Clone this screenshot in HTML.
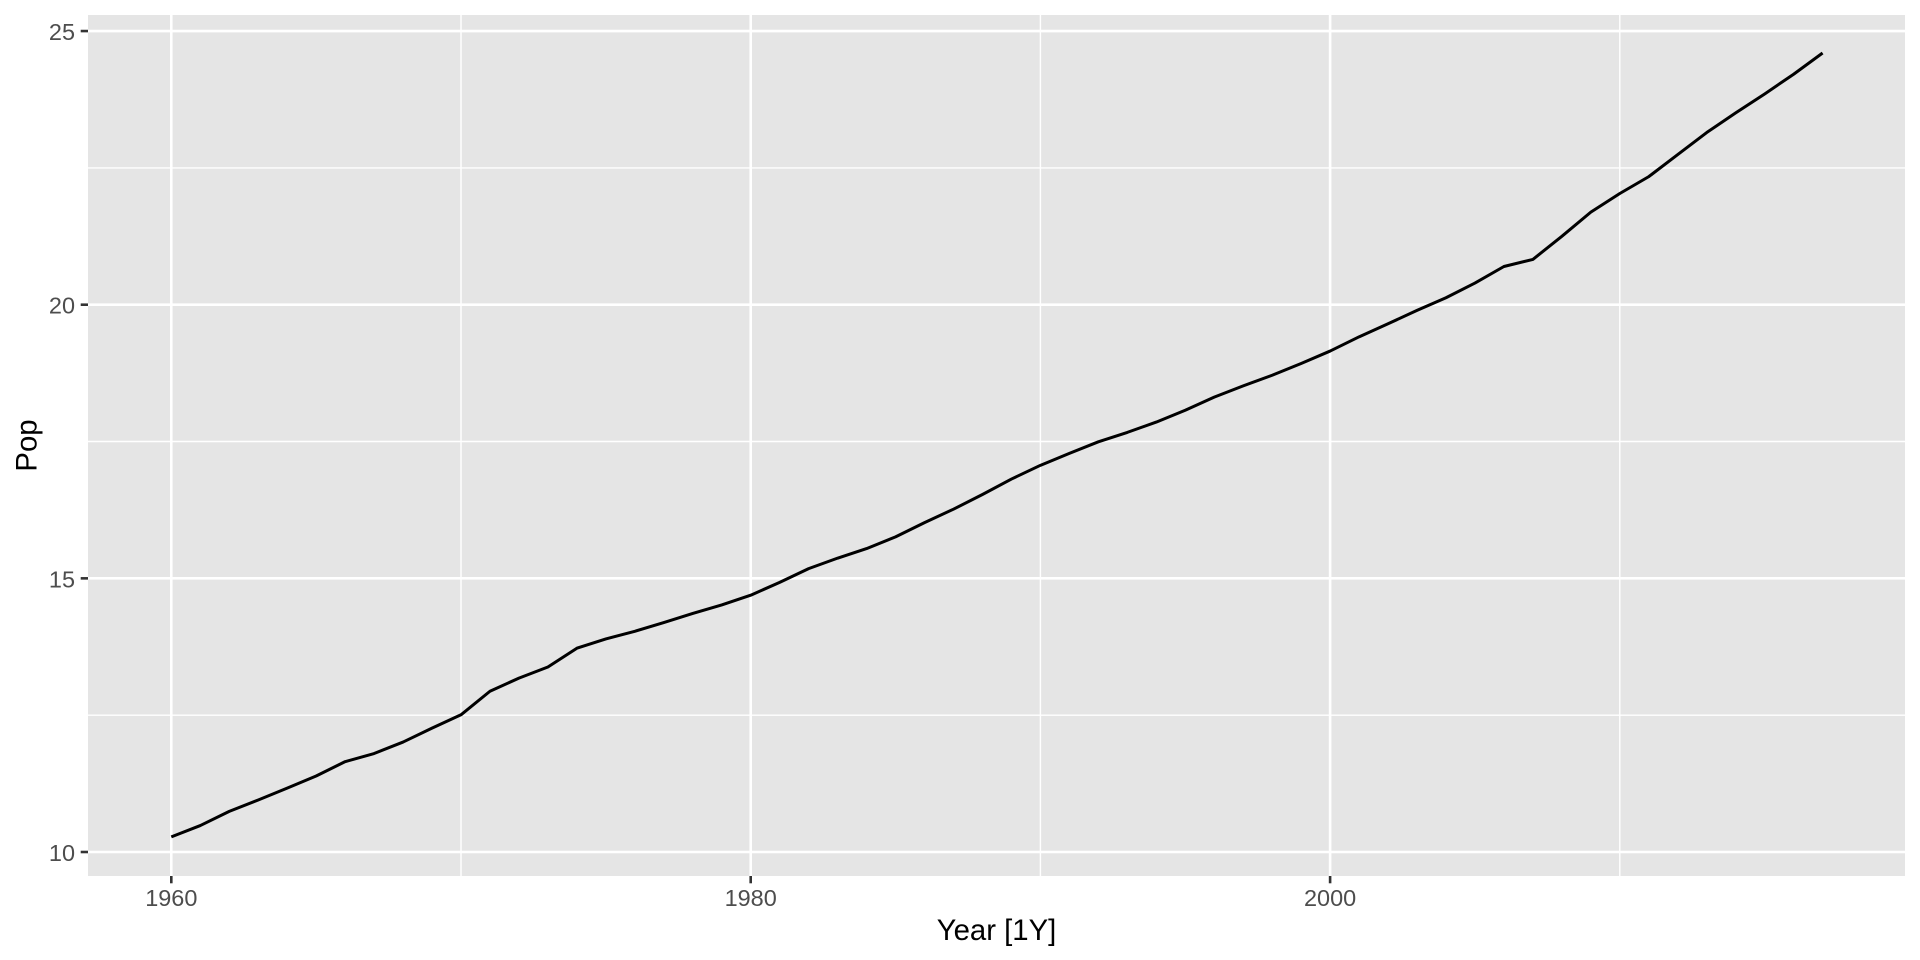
<!DOCTYPE html>
<html>
<head>
<meta charset="utf-8">
<style>
html,body{margin:0;padding:0;background:#fff;}
svg{display:block;}
text{font-family:"Liberation Sans",Arial,sans-serif;}
</style>
</head>
<body>
<svg width="1920" height="960" viewBox="0 0 1920 960" xmlns="http://www.w3.org/2000/svg">
<rect x="0" y="0" width="1920" height="960" fill="#fff"/>
<!-- panel -->
<rect x="88" y="15" width="1817" height="861" fill="#E5E5E5"/>
<!-- minor gridlines -->
<g stroke="#fff" stroke-width="1.42" fill="none">
<line x1="88" x2="1905" y1="715.2" y2="715.2"/>
<line x1="88" x2="1905" y1="441.5" y2="441.5"/>
<line x1="88" x2="1905" y1="167.9" y2="167.9"/>
<line x1="461" x2="461" y1="15" y2="876"/>
<line x1="1040.4" x2="1040.4" y1="15" y2="876"/>
<line x1="1619.8" x2="1619.8" y1="15" y2="876"/>
</g>
<!-- major gridlines -->
<g stroke="#fff" stroke-width="2.6" fill="none">
<line x1="88" x2="1905" y1="852" y2="852"/>
<line x1="88" x2="1905" y1="578.35" y2="578.35"/>
<line x1="88" x2="1905" y1="304.7" y2="304.7"/>
<line x1="88" x2="1905" y1="31.05" y2="31.05"/>
<line x1="171.3" x2="171.3" y1="15" y2="876"/>
<line x1="750.7" x2="750.7" y1="15" y2="876"/>
<line x1="1330.1" x2="1330.1" y1="15" y2="876"/>
</g>
<!-- data -->
<polyline fill="none" stroke="#000" stroke-width="3" stroke-linejoin="round" stroke-linecap="butt" points="171.3,836.87 200.27,825.57 229.24,811.39 258.21,800.01 287.18,788.13 316.15,776.03 345.12,761.64 374.09,753.54 403.06,742.05 432.03,728.15 461.0,714.79 489.97,691.26 518.94,678.12 547.91,667.01 576.88,648.24 605.85,638.94 634.82,631.27 663.79,622.57 692.76,613.49 721.73,604.95 750.7,595.21 779.67,582.35 808.64,568.61 837.61,558.15 866.58,548.58 895.55,536.86 924.52,522.61 953.49,509.18 982.46,494.49 1011.43,479.05 1040.4,465.33 1069.37,453.35 1098.34,441.80 1127.31,432.39 1156.28,422.10 1185.25,410.22 1214.22,397.14 1243.19,385.86 1272.16,375.25 1301.13,363.48 1330.1,351.06 1359.07,336.83 1388.04,323.78 1417.01,310.42 1445.98,297.73 1474.95,283.09 1503.92,266.50 1532.89,259.40 1561.86,236.33 1590.83,212.11 1619.8,193.50 1648.77,176.63 1677.74,154.60 1706.71,132.53 1735.68,112.92 1764.65,93.95 1793.62,74.24 1822.59,53.00"/>
<!-- axis ticks -->
<g stroke="#333" stroke-width="2.6">
<line x1="80.7" x2="88" y1="852" y2="852"/>
<line x1="80.7" x2="88" y1="578.35" y2="578.35"/>
<line x1="80.7" x2="88" y1="304.7" y2="304.7"/>
<line x1="80.7" x2="88" y1="31.05" y2="31.05"/>
<line x1="171.3" x2="171.3" y1="876" y2="883.3"/>
<line x1="750.7" x2="750.7" y1="876" y2="883.3"/>
<line x1="1330.1" x2="1330.1" y1="876" y2="883.3"/>
</g>
<!-- y tick labels -->
<g fill="#4D4D4D" font-size="23.47" text-anchor="end">
<text x="75" y="861">10</text>
<text x="75" y="587.35">15</text>
<text x="75" y="313.7">20</text>
<text x="75" y="40.05">25</text>
</g>
<!-- x tick labels -->
<g fill="#4D4D4D" font-size="23.47" text-anchor="middle">
<text x="171.3" y="906">1960</text>
<text x="750.7" y="906">1980</text>
<text x="1330.1" y="906">2000</text>
</g>
<!-- axis titles -->
<text x="996.5" y="940" font-size="29.33" fill="#000" text-anchor="middle">Year [1Y]</text>
<text x="0" y="0" font-size="29.33" fill="#000" text-anchor="middle" transform="translate(36.5,445.5) rotate(-90)">Pop</text>
</svg>
</body>
</html>
